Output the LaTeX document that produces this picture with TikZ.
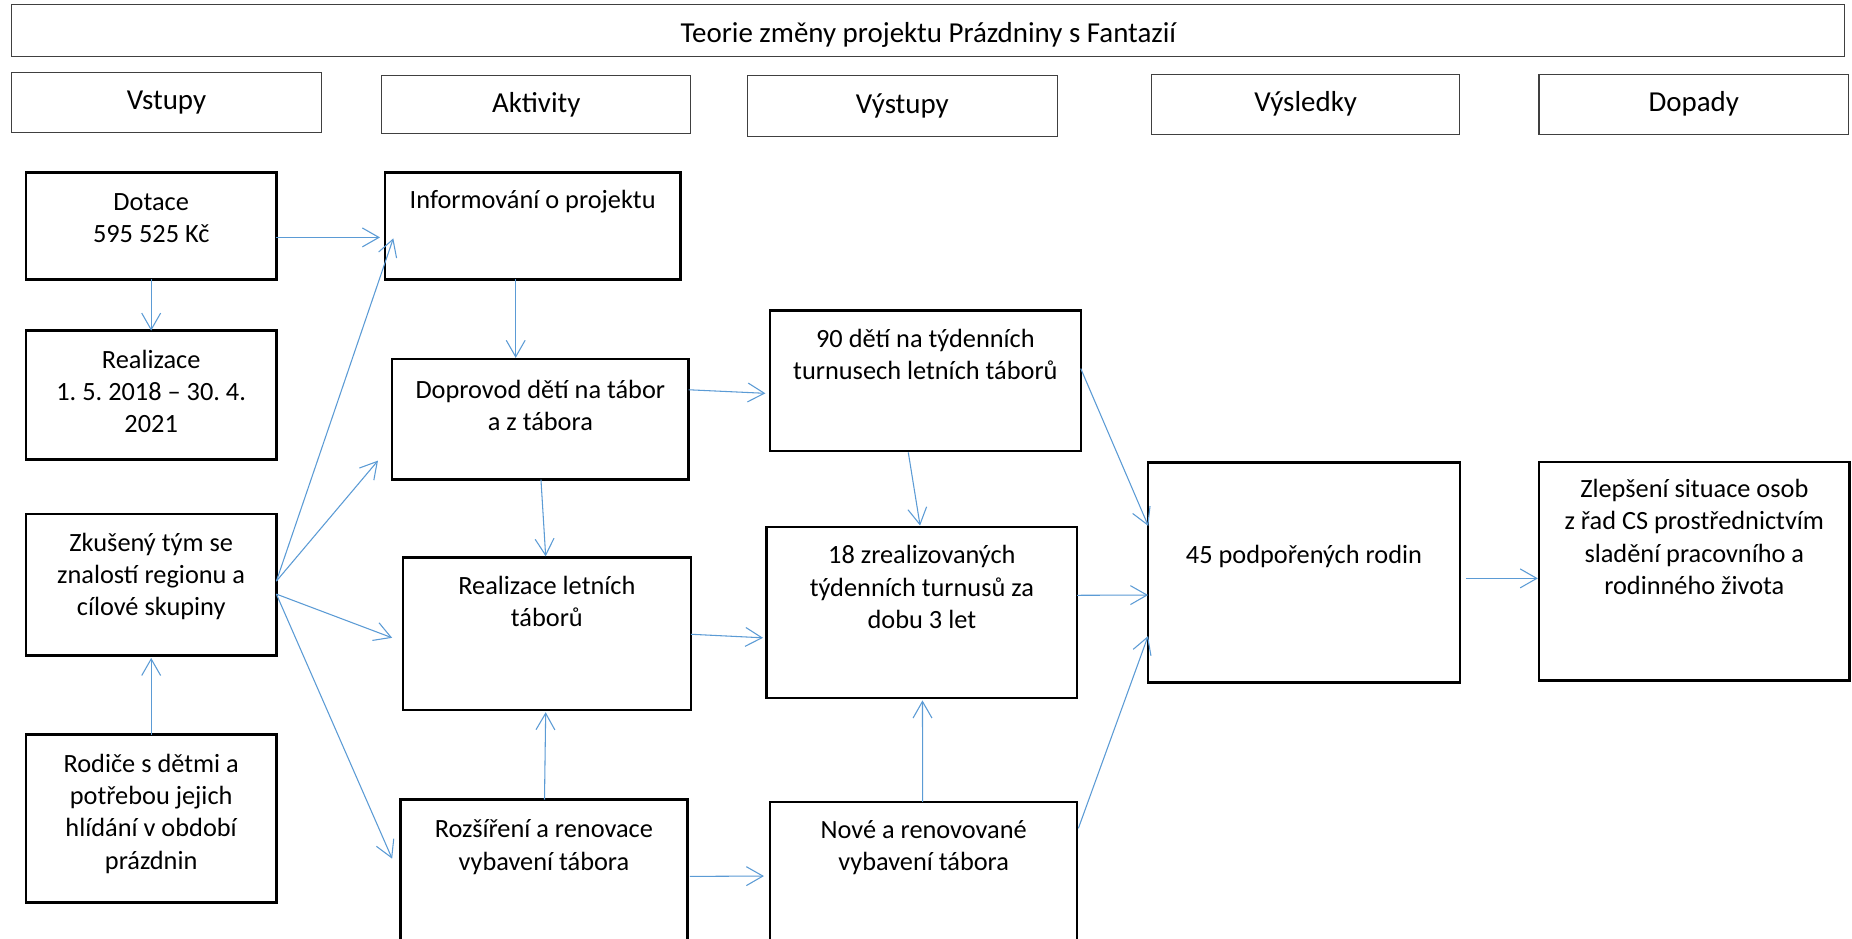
\documentclass[tikz,border=0pt]{standalone}
\usepackage{fontspec}
\setmainfont{Carlito}
\frenchspacing
\usetikzlibrary{arrows.meta}
\definecolor{arrblue}{RGB}{91,155,213}
\definecolor{hdgray}{RGB}{64,64,64}
\begin{document}
\begin{tikzpicture}[x=1pt,y=-1pt,
  cbox/.style={draw=black, line width=2.1pt, rectangle, anchor=north west, inner sep=0pt, outer sep=0pt},
  hbox/.style={draw=hdgray, line width=0.9pt, rectangle, anchor=north west, inner sep=0pt, outer sep=0pt},
  ctext/.style={anchor=north, inner sep=0pt, align=center, font=\fontsize{22.3}{27.4}\selectfont},
  htext/.style={anchor=base, inner sep=0pt, font=\fontsize{24.5}{29}\selectfont},
  arr/.style={draw=arrblue, line width=0.9pt, -{Straight Barb[length=14pt,width=16pt]}}]
\fill[white] (0,0) rectangle (1568,795);
\clip (0,0) rectangle (1568,795);
% title and headers
\node[hbox, minimum width=1552pt, minimum height=44pt] (tit) at (10,4) {};
\node[htext] (tit-t) at (786,36) {Teorie změny projektu Prázdniny s Fantazií};
\node[hbox, minimum width=262pt, minimum height=51pt] (hv) at (10,61) {};
\node[htext] (hv-t) at (141,93) {Vstupy};
\node[hbox, minimum width=262pt, minimum height=49pt] (ha) at (323,64) {};
\node[htext] (ha-t) at (454,95.5) {Aktivity};
\node[hbox, minimum width=262pt, minimum height=51pt] (hvy) at (633,64.3) {};
\node[htext] (hvy-t) at (764,96) {Výstupy};
\node[hbox, minimum width=261pt, minimum height=51pt] (hvs) at (975,62.7) {};
\node[htext] (hvs-t) at (1105.5,94.6) {Výsledky};
\node[hbox, minimum width=262pt, minimum height=51pt] (hd) at (1303,62.7) {};
\node[htext] (hd-t) at (1434,94.6) {Dopady};
% content boxes
\node[cbox, minimum width=212pt, minimum height=90.5pt] (dot) at (22,146) {};
\node[cbox, minimum width=212pt, minimum height=109pt] (rea) at (22,280) {};
\node[cbox, minimum width=212pt, minimum height=120pt] (zk) at (22,435) {};
\node[cbox, minimum width=212pt, minimum height=142pt] (rod) at (22,622) {};
\node[cbox, minimum width=250pt, minimum height=90.5pt] (info) at (326,146) {};
\node[cbox, minimum width=251pt, minimum height=102pt] (dopr) at (332,304) {};
\node[cbox, minimum width=244pt, minimum height=129pt] (rlt) at (341,472) {};
\node[cbox, minimum width=243pt, minimum height=130pt] (roz) at (339,677) {};
\node[cbox, minimum width=263pt, minimum height=119pt] (d90) at (652,263) {};
\node[cbox, minimum width=263pt, minimum height=145pt] (z18) at (649,446) {};
\node[cbox, minimum width=260pt, minimum height=130pt] (nov) at (652,679) {};
\node[cbox, minimum width=264pt, minimum height=186pt] (r45) at (972,391.7) {};
\node[cbox, minimum width=263pt, minimum height=185pt] (zl) at (1303,391) {};
% texts
\node[ctext] (dot-t) at (128,158) {\rule{0pt}{20pt}Dotace\\595 525 Kč};
\node[ctext] (rea-t) at (128,291.5) {\rule{0pt}{20pt}Realizace\\1. 5. 2018 – 30. 4.\\2021};
\node[ctext] (zk-t) at (128,446.5) {\rule{0pt}{20pt}Zkušený tým se\\znalostí regionu a\\cílové skupiny};
\node[ctext] (rod-t) at (128,633.5) {\rule{0pt}{20pt}Rodiče s dětmi a\\potřebou jejich\\hlídání v období\\prázdnin};
\node[ctext] (info-t) at (451,156.4) {\rule{0pt}{20pt}Informování o projektu};
\node[ctext] (dopr-t) at (457.5,317) {\rule{0pt}{20pt}Doprovod dětí na tábor\\a z tábora};
\node[ctext] (rlt-t) at (463,483) {\rule{0pt}{20pt}Realizace letních\\táborů};
\node[ctext] (roz-t) at (460.5,689) {\rule{0pt}{20pt}Rozšíření a renovace\\vybavení tábora};
\node[ctext] (d90-t) at (783.5,274) {\rule{0pt}{20pt}90 dětí na týdenních\\turnusech letních táborů};
\node[ctext] (z18-t) at (780.5,457) {\rule{0pt}{20pt}18 zrealizovaných\\týdenních turnusů za\\dobu 3 let};
\node[ctext] (nov-t) at (782,689.8) {\rule{0pt}{20pt}Nové a renovované\\vybavení tábora};
\node[ctext] (r45-t) at (1104,457) {\rule{0pt}{20pt}45 podpořených rodin};
\node[ctext] (zl-t) at (1434.5,401) {\rule{0pt}{20pt}Zlepšení situace osob\\z řad CS prostřednictvím\\sladění pracovního a\\rodinného života};
% connectors
\draw[arr] ([shift={(212,55)}]dot.north west) -- ([shift={(-4.3,55)}]info.north west);
\draw[arr] ([shift={(106,90.5)}]dot.north west) -- ([shift={(106,0)}]rea.north west);
\draw[arr] ([shift={(212,57)}]zk.north west) -- ([shift={(7,55.8)}]info.north west);
\draw[arr] ([shift={(212,57)}]zk.north west) -- ([shift={(-12,86)}]dopr.north west);
\draw[arr] ([shift={(212,68)}]zk.north west) -- ([shift={(-9,68)}]rlt.north west);
\draw[arr] ([shift={(212,68)}]zk.north west) -- ([shift={(-7,50)}]roz.north west);
\draw[arr] ([shift={(106,0)}]rod.north west) -- ([shift={(106,122)}]zk.north west);
\draw[arr] ([shift={(110.6,90.5)}]info.north west) -- ([shift={(104.6,-1)}]dopr.north west);
\draw[arr] ([shift={(126,102)}]dopr.north west) -- ([shift={(121,-1)}]rlt.north west);
\draw[arr] ([shift={(122,0)}]roz.north west) -- ([shift={(121,131)}]rlt.north west);
\draw[arr] ([shift={(251,26)}]dopr.north west) -- ([shift={(-4,70)}]d90.north west);
\draw[arr] ([shift={(244,65)}]rlt.north west) -- ([shift={(-3,94)}]z18.north west);
\draw[arr] ([shift={(245,65)}]roz.north west) -- ([shift={(-5.2,62.7)}]nov.north west);
\draw[arr] ([shift={(117,120)}]d90.north west) -- ([shift={(130,-1)}]z18.north west);
\draw[arr] ([shift={(129.2,0)}]nov.north west) -- ([shift={(132,147)}]z18.north west);
\draw[arr] ([shift={(263,49)}]d90.north west) -- ([shift={(0.2,53.6)}]r45.north west);
\draw[arr] ([shift={(263,58)}]z18.north west) -- ([shift={(0,112.1)}]r45.north west);
\draw[arr] ([shift={(261,22.3)}]nov.north west) -- ([shift={(0,146.8)}]r45.north west);
\draw[arr] ([shift={(269,98)}]r45.north west) -- ([shift={(-1,98.7)}]zl.north west);
\end{tikzpicture}
\end{document}
